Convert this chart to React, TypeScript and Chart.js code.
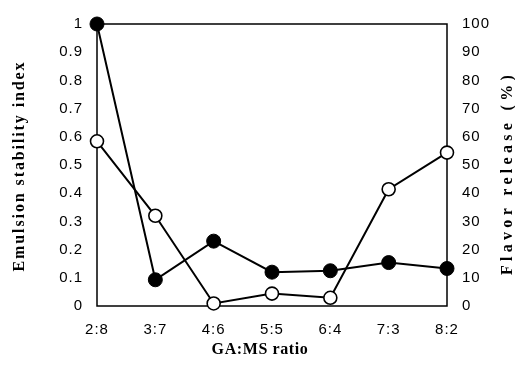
import React, { useEffect, useRef } from "react";
import { Chart, registerables } from "chart.js";

Chart.register(...registerables);

const ratioLabels = ["2:8", "3:7", "4:6", "5:5", "6:4", "7:3", "8:2"];
const stabilityIndex = [1.0, 0.093, 0.23, 0.12, 0.125, 0.154, 0.133];
const flavorRelease = [58.4, 32.0, 0.9, 4.4, 2.9, 41.4, 54.4];

const leftTitle = "Emulsion stability index";
const rightTitle = "Flavor release (%)";
const bottomTitle = "GA:MS ratio";

const titlesPlugin = {
  id: "titlesAndFrame",
  beforeDraw(chart: any) {
    chart.ctx.letterSpacing = "1px";
  },
  beforeDatasetsDraw(chart: any) {
    const { ctx, chartArea } = chart;
    const { left, top, right, bottom } = chartArea;
    ctx.save();
    ctx.strokeStyle = "#000";
    ctx.lineWidth = 1.5;
    ctx.strokeRect(left, top, right - left, bottom - top);
    ctx.restore();
  },
  afterDraw(chart: any) {
    const { ctx } = chart;
    ctx.save();
    ctx.fillStyle = "#000";
    ctx.textAlign = "center";
    ctx.textBaseline = "middle";

    ctx.font = "bold 16px 'Liberation Serif', 'Times New Roman', serif";
    ctx.letterSpacing = "1.9px";
    ctx.save();
    ctx.translate(20, 166);
    ctx.rotate(-Math.PI / 2);
    ctx.fillText(leftTitle, 0, 0);
    ctx.restore();

    ctx.font = "bold 16px 'Liberation Serif', 'Times New Roman', serif";
    ctx.letterSpacing = "4.3px";
    ctx.save();
    ctx.translate(508, 173);
    ctx.rotate(-Math.PI / 2);
    ctx.fillText(rightTitle, 0, 0);
    ctx.restore();

    ctx.font = "bold 16px 'Liberation Serif', 'Times New Roman', serif";
    ctx.letterSpacing = "0.6px";
    ctx.fillText(bottomTitle, 260, 350);
    ctx.restore();
  },
};

export default function App() {
  const canvasRef = useRef<HTMLCanvasElement | null>(null);

  useEffect(() => {
    const canvas = canvasRef.current;
    if (!canvas) return;
    const tickFont = { family: "'Liberation Sans', Arial, sans-serif", size: 15 };
    const chart = new Chart(canvas, {
      type: "line",
      data: {
        labels: ratioLabels,
        datasets: [
          {
            label: "Emulsion stability index",
            data: stabilityIndex,
            yAxisID: "y",
            borderColor: "#000",
            borderWidth: 2,
            backgroundColor: "#000",
            pointBackgroundColor: "#000",
            pointBorderColor: "#000",
            pointRadius: 7,
            pointBorderWidth: 1,
            tension: 0,
            clip: false as any,
            order: 2,
          },
          {
            label: "Flavor release (%)",
            data: flavorRelease,
            yAxisID: "y1",
            borderColor: "#000",
            borderWidth: 2,
            backgroundColor: "#fff",
            pointBackgroundColor: "#fff",
            pointBorderColor: "#000",
            pointRadius: 6.5,
            pointBorderWidth: 1.6,
            tension: 0,
            clip: false as any,
            order: 1,
          },
        ],
      },
      options: {
        responsive: false,
        animation: false,
        devicePixelRatio: 1,
        layout: { padding: { top: 19, left: 0, right: 0, bottom: 0 } },
        plugins: {
          legend: { display: false },
          tooltip: { enabled: false },
          title: { display: false },
        },
        scales: {
          x: {
            type: "category",
            offset: false,
            grid: { display: false, drawTicks: false },
            border: { display: false },
            ticks: { color: "#000", font: tickFont, padding: 15, maxRotation: 0, autoSkip: false },
            afterFit: (s: any) => {
              s.height = 59;
            },
          },
          y: {
            position: "left",
            min: 0,
            max: 1,
            grid: { display: false, drawTicks: false },
            border: { display: false },
            ticks: {
              color: "#000",
              font: tickFont,
              stepSize: 0.1,
              padding: 14,
              callback: (v: any) => String(Math.round(Number(v) * 10) / 10),
            },
            afterFit: (s: any) => {
              s.width = 97;
            },
          },
          y1: {
            position: "right",
            min: 0,
            max: 100,
            grid: { display: false, drawTicks: false },
            border: { display: false },
            ticks: { color: "#000", font: tickFont, stepSize: 10, padding: 15 },
            afterFit: (s: any) => {
              s.width = 68;
            },
          },
        },
      },
      plugins: [titlesPlugin],
    });
    return () => chart.destroy();
  }, []);

  return (
    <div style={{ position: "absolute", left: 0, top: 0, width: 515, height: 365, background: "#fff" }}>
      <canvas ref={canvasRef} width={515} height={365} />
    </div>
  );
}
